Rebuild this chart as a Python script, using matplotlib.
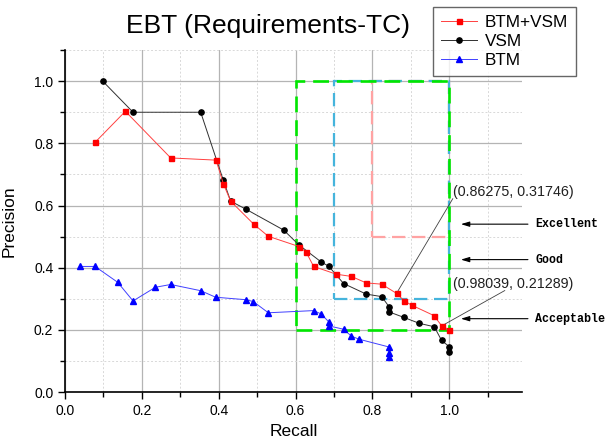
import matplotlib
matplotlib.use("Agg")
import matplotlib.pyplot as plt
from matplotlib.patches import Rectangle
from matplotlib.ticker import MultipleLocator, FormatStrFormatter

plt.rcParams['font.family'] = ['Liberation Sans', 'DejaVu Sans']

# --- data ---
x_both = [0.078, 0.157, 0.275, 0.393, 0.412, 0.431, 0.491, 0.529, 0.609, 0.627, 0.647,
          0.706, 0.745, 0.784, 0.824, 0.86275, 0.883, 0.903, 0.960, 0.98039, 1.0]
y_both = [0.803, 0.903, 0.753, 0.746, 0.670, 0.614, 0.540, 0.501, 0.468, 0.451, 0.404,
          0.379, 0.372, 0.351, 0.347, 0.31746, 0.293, 0.279, 0.246, 0.21289, 0.200]

x_vsm = [0.098, 0.177, 0.353, 0.412, 0.431, 0.471, 0.569, 0.608, 0.667, 0.686, 0.725,
         0.784, 0.824, 0.843, 0.843, 0.882, 0.922, 0.961, 0.980, 1.0, 1.0]
y_vsm = [1.0, 0.9, 0.9, 0.681, 0.614, 0.588, 0.521, 0.474, 0.418, 0.405, 0.349,
         0.315, 0.307, 0.275, 0.258, 0.240, 0.221, 0.210, 0.166, 0.146, 0.128]

x_btm = [0.039, 0.078, 0.137, 0.177, 0.235, 0.275, 0.353, 0.392, 0.471, 0.490, 0.529,
         0.647, 0.667, 0.686, 0.686, 0.725, 0.745, 0.765, 0.843, 0.843, 0.843]
y_btm = [0.404, 0.404, 0.353, 0.293, 0.337, 0.346, 0.326, 0.305, 0.297, 0.291, 0.255,
         0.262, 0.251, 0.226, 0.213, 0.202, 0.180, 0.170, 0.145, 0.127, 0.112]

# quality zones: (recall from, precision from)
zone_names = ['Acceptable', 'Good', 'Excellent']
zone_recall = [0.6, 0.7, 0.8]
zone_precision = [0.2, 0.3, 0.5]
zone_colors = ['#00e600', '#45b4dc', '#ffa3a3']

fig = plt.figure(figsize=(6.08, 4.43), dpi=100)
ax = fig.add_axes([0.107, 0.115, 0.752, 0.772])

# zone boxes (pink first, green on top)
for r0, p0, c, lw in zip(zone_recall[::-1], zone_precision[::-1], zone_colors[::-1], [1.6, 1.6, 1.9]):
    ax.add_patch(Rectangle((r0, p0), 1.0 - r0, 1.0 - p0, fill=False, edgecolor=c,
                           linestyle=(0, (6, 3)), linewidth=lw, zorder=2))

ax.plot(x_both, y_both, color='#ff4040', lw=0.7, marker='s', ms=3.6,
        mfc='red', mec='red', label='BTM+VSM', zorder=4)
ax.plot(x_vsm, y_vsm, color='#303030', lw=0.7, marker='o', ms=3.8,
        mfc='black', mec='black', label='VSM', zorder=3)
ax.plot(x_btm, y_btm, color='#4040ff', lw=0.7, marker='^', ms=4.2,
        mfc='blue', mec='blue', label='BTM', zorder=3)

ax.set_xlim(0, 1.19)
ax.set_ylim(0, 1.1)
ax.xaxis.set_major_locator(MultipleLocator(0.2))
ax.xaxis.set_minor_locator(MultipleLocator(0.1))
ax.yaxis.set_major_locator(MultipleLocator(0.2))
ax.yaxis.set_minor_locator(MultipleLocator(0.1))
ax.xaxis.set_major_formatter(FormatStrFormatter('%.1f'))
ax.yaxis.set_major_formatter(FormatStrFormatter('%.1f'))
ax.grid(which='major', color='#b4b4b4', lw=0.9, zorder=0)
ax.grid(which='minor', color='#d8d8d8', lw=0.7, linestyle=(0, (2, 2)), zorder=0)
ax.set_axisbelow(True)
for s in ['top', 'right']:
    ax.spines[s].set_visible(False)
for s in ['left', 'bottom']:
    ax.spines[s].set_linewidth(1.2)
ax.tick_params(which='major', direction='out', length=5, width=1, labelsize=10)
ax.tick_params(which='minor', direction='out', length=3.5, width=1)

ax.set_xlabel('Recall', fontsize=12.5)
ax.set_ylabel('Precision', fontsize=12.5)
ax.xaxis.set_label_coords(0.5, -0.094)
ax.yaxis.set_label_coords(-0.105, 0.5)

fig.text(0.441, 0.942, 'EBT (Requirements-TC)', fontsize=19, ha='center', va='center')

# point labels
ax.annotate('', xy=(x_both[15], y_both[15]), xytext=(1.013, 0.630),
            arrowprops=dict(arrowstyle='-', lw=0.6, color='#404040'))
ax.text(1.01, 0.643, f'({x_both[15]:.5f}, {y_both[15]:.5f})', fontsize=10.3,
        ha='left', va='center', color='#202020')
ax.annotate('', xy=(x_both[19], y_both[19]), xytext=(1.151, 0.331),
            arrowprops=dict(arrowstyle='-', lw=0.6, color='#404040'))
ax.text(1.01, 0.349, f'({x_both[19]:.5f}, {y_both[19]:.5f})', fontsize=10.3,
        ha='left', va='center', color='#202020')

# zone arrows
zone_arrow_y = [0.236, 0.426, 0.54]
for name, yy in zip(zone_names, zone_arrow_y):
    ax.annotate('', xy=(1.023, yy), xytext=(1.212, yy), annotation_clip=False,
                arrowprops=dict(arrowstyle='-|>,head_length=0.5,head_width=0.15',
                                lw=0.8, color='black'))
    ax.text(1.224, yy, name, fontsize=8.4, fontweight='bold', family='Liberation Mono',
            ha='left', va='center', clip_on=False)

leg = fig.legend(loc='upper left', bbox_to_anchor=(433 / 608, 1 - 7 / 443),
                 borderaxespad=0, fontsize=12.3, fancybox=False, frameon=True,
                 edgecolor='#404040', handlelength=2.1, handletextpad=0.5,
                 labelspacing=0.25, borderpad=0.45, numpoints=1)
leg.get_frame().set_linewidth(1.0)

fig.savefig('out.png', dpi=100)
